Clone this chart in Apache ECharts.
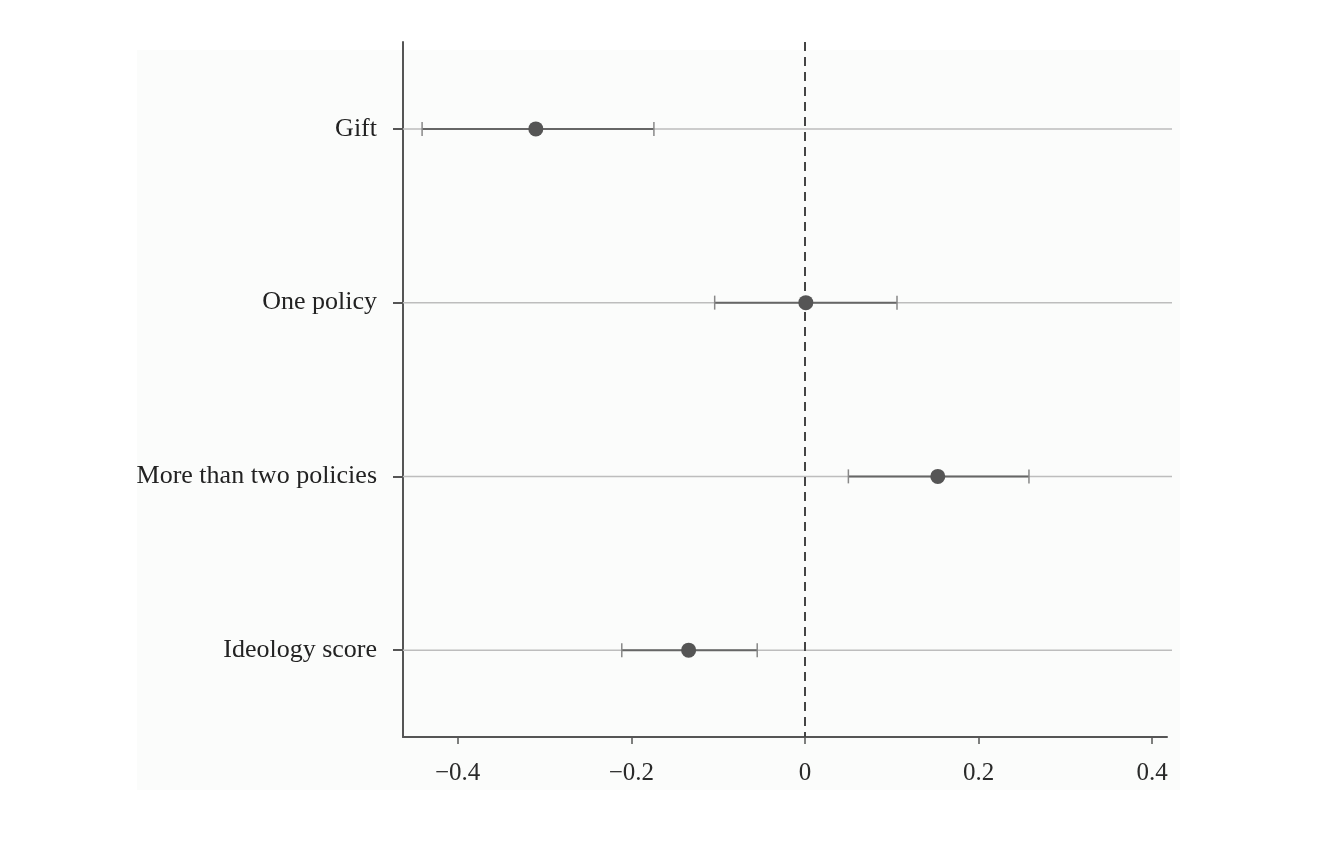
<!DOCTYPE html>
<html>
<head>
<meta charset="utf-8">
<script src="https://cdn.jsdelivr.net/npm/echarts@6/dist/echarts.min.js"></script>
<style>
html,body{margin:0;padding:0;background:#fff;}
#chart{width:1338px;height:842px;}
</style>
</head>
<body>
<div id="chart"></div>
<script>
const categories = ['Gift', 'One policy', 'More than two policies', 'Ideology score'];
const estimates = [-0.31, 0.001, 0.153, -0.134];
const lowerCI = [-0.441, -0.104, 0.05, -0.211];
const upperCI = [-0.174, 0.106, 0.258, -0.055];
const xTicks = [-0.4, -0.2, 0, 0.2, 0.4];

const chart = echarts.init(document.getElementById('chart'), null, {renderer: 'canvas'});
const font = 'Liberation Serif';

const ciData = categories.map((c, i) => [lowerCI[i], upperCI[i], i]);
const pointData = categories.map((c, i) => [estimates[i], i]);

chart.setOption({
  backgroundColor: '#fff',
  animation: false,
  graphic: [{
    type: 'rect', z: -10, silent: true,
    shape: {x: 137, y: 50, width: 1043, height: 740},
    style: {fill: '#fbfcfb'}
  }],
  grid: {left: 403, right: 171, top: 42, bottom: 105, containLabel: false},
  xAxis: {
    type: 'value', min: -0.463, max: 0.417,
    axisLine: {show: true, onZero: false, lineStyle: {color: '#555', width: 2}},
    axisTick: {show: true, customValues: xTicks, length: 7, lineStyle: {color: '#555', width: 1.5}},
    axisLabel: {
      customValues: xTicks, margin: 24, color: '#2a2a2a', fontFamily: font, fontSize: 25,
      formatter: v => v === 0 ? '0' : (v < 0 ? '\u2212' + Math.abs(v).toFixed(1) : v.toFixed(1))
    },
    splitLine: {show: false}
  },
  yAxis: {
    type: 'category', data: categories, inverse: true, boundaryGap: true,
    axisLine: {show: true, onZero: false, lineStyle: {color: '#555', width: 2}},
    axisTick: {show: true, alignWithLabel: true, length: 10, lineStyle: {color: '#555', width: 2}},
    axisLabel: {margin: 26, color: '#222', fontFamily: font, fontSize: 26},
    splitLine: {show: false}
  },
  series: [{
    type: 'custom',
    z: 2,
    data: ciData,
    encode: {x: [0, 1], y: 2},
    renderItem: function (params, api) {
      const yv = api.value(2);
      const lo = api.coord([api.value(0), yv]);
      const hi = api.coord([api.value(1), yv]);
      const cs = params.coordSys;
      const cap = 7;
      return {
        type: 'group',
        children: [
          {type: 'line', shape: {x1: cs.x, y1: lo[1], x2: cs.x + cs.width + 5, y2: lo[1]},
           style: {stroke: '#bdbdbd', lineWidth: 1.5}},
          {type: 'line', shape: {x1: lo[0], y1: lo[1], x2: hi[0], y2: hi[1]},
           style: {stroke: '#666', lineWidth: 2}},
          {type: 'line', shape: {x1: lo[0], y1: lo[1] - cap, x2: lo[0], y2: lo[1] + cap},
           style: {stroke: '#888', lineWidth: 1.5}},
          {type: 'line', shape: {x1: hi[0], y1: hi[1] - cap, x2: hi[0], y2: hi[1] + cap},
           style: {stroke: '#888', lineWidth: 1.5}}
        ]
      };
    }
  }, {
    type: 'scatter',
    z: 5,
    data: pointData,
    symbol: 'circle',
    symbolSize: 15,
    itemStyle: {color: '#555', opacity: 1},
    markLine: {
      silent: true, symbol: 'none', label: {show: false}, z: 3,
      lineStyle: {color: '#444', type: [9, 6], width: 2},
      data: [{xAxis: 0}]
    }
  }]
});
</script>
</body>
</html>
